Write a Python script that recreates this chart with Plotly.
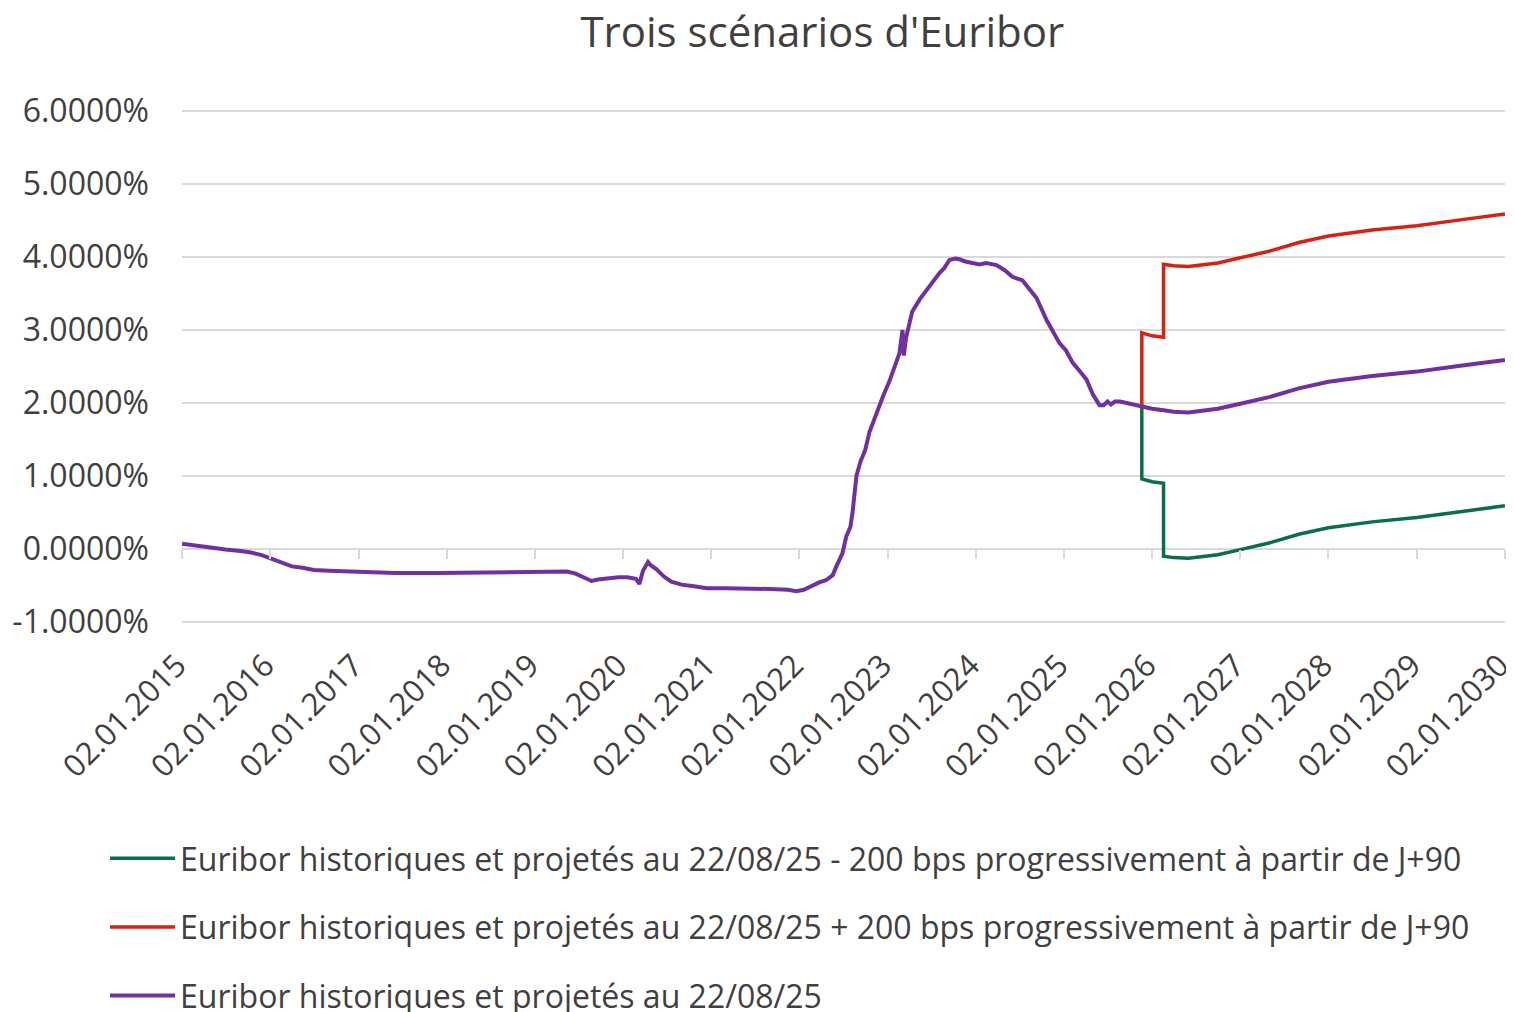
import plotly.graph_objects as go

# Euribor 3M historique + projection (en %)
purple_dates = [
    "2015-01-02", "2015-02-15", "2015-04-01", "2015-05-15", "2015-07-01", "2015-09-01",
    "2015-10-15", "2015-12-01", "2016-01-10", "2016-02-20", "2016-04-01", "2016-05-15",
    "2016-07-01", "2016-09-01", "2016-11-15", "2017-01-02", "2017-06-01", "2017-12-01",
    "2018-06-01", "2018-12-01", "2019-03-01", "2019-05-15", "2019-06-20", "2019-08-01",
    "2019-08-25", "2019-09-20", "2019-11-01", "2019-12-15", "2020-01-20", "2020-02-25",
    "2020-03-10", "2020-03-25", "2020-04-15", "2020-04-25", "2020-05-20", "2020-06-20",
    "2020-07-20", "2020-09-01", "2020-10-15", "2020-12-15", "2021-03-01", "2021-06-01",
    "2021-09-01", "2021-11-15", "2021-12-20", "2022-01-20", "2022-02-25", "2022-03-25",
    "2022-04-22", "2022-05-20", "2022-06-04", "2022-06-29", "2022-07-15", "2022-08-01",
    "2022-08-10", "2022-08-26", "2022-09-12", "2022-10-01", "2022-10-19", "2022-11-21",
    "2022-12-15", "2023-01-10", "2023-02-20", "2023-03-05", "2023-03-10", "2023-03-20",
    "2023-04-14", "2023-05-15", "2023-06-12", "2023-07-10", "2023-08-05", "2023-08-25",
    "2023-09-15", "2023-10-10", "2023-10-26", "2023-11-20", "2023-12-20", "2024-01-17",
    "2024-02-15", "2024-03-28", "2024-05-01", "2024-06-02", "2024-07-14", "2024-08-15",
    "2024-09-10", "2024-10-21", "2024-11-15", "2024-12-14", "2025-01-10", "2025-02-07",
    "2025-03-05", "2025-04-05", "2025-05-01", "2025-05-29", "2025-06-15", "2025-07-01",
    "2025-07-15", "2025-08-01", "2025-08-22",
    # projection
    "2025-10-01", "2025-11-20", "2026-01-01", "2026-02-18", "2026-04-01", "2026-06-01",
    "2026-08-01", "2026-10-01", "2027-01-02", "2027-05-01", "2027-09-01", "2028-01-02",
    "2028-07-01", "2029-01-02", "2029-07-01", "2030-01-02",
]
purple_values = [
    0.07, 0.05, 0.02, 0.00, -0.01, -0.03,
    -0.05, -0.09, -0.14, -0.19, -0.24, -0.26,
    -0.29, -0.30, -0.31, -0.32, -0.33, -0.33,
    -0.32, -0.31, -0.31, -0.31, -0.34, -0.41,
    -0.44, -0.42, -0.40, -0.39, -0.39, -0.41,
    -0.48, -0.30, -0.18, -0.22, -0.28, -0.38,
    -0.45, -0.49, -0.51, -0.54, -0.54, -0.54,
    -0.55, -0.56, -0.58, -0.56, -0.50, -0.46,
    -0.43, -0.36, -0.24, -0.06, 0.17, 0.30,
    0.50, 1.00, 1.20, 1.35, 1.60, 1.90,
    2.10, 2.30, 2.68, 3.00, 2.65, 2.90,
    3.25, 3.42, 3.55, 3.68, 3.78, 3.85,
    3.96, 3.98, 3.97, 3.94, 3.92, 3.90,
    3.92, 3.89, 3.82, 3.73, 3.68, 3.55,
    3.44, 3.14, 3.00, 2.82, 2.72, 2.55,
    2.45, 2.32, 2.12, 1.97, 1.97, 2.02,
    1.98, 2.02, 2.02,
    1.99, 1.96, 1.92, 1.90, 1.88, 1.87,
    1.89, 1.92, 1.99, 2.08, 2.20, 2.29,
    2.37, 2.43, 2.51, 2.59,
]

# scenarios +/- 200 bps (a partir de J+90)
scen_dates = [
    "2025-11-20", "2025-11-20", "2026-01-01", "2026-02-18", "2026-02-18", "2026-04-01",
    "2026-06-01", "2026-08-01", "2026-10-01", "2027-01-02", "2027-05-01", "2027-09-01",
    "2028-01-02", "2028-07-01", "2029-01-02", "2029-07-01", "2030-01-02",
]
red_values = [
    1.96, 2.96, 2.92, 2.90, 3.90, 3.88,
    3.87, 3.89, 3.92, 3.99, 4.08, 4.20,
    4.29, 4.37, 4.43, 4.51, 4.59,
]
green_values = [
    1.96, 0.96, 0.92, 0.90, -0.10, -0.12,
    -0.13, -0.11, -0.08, -0.01, 0.08, 0.20,
    0.29, 0.37, 0.43, 0.51, 0.59,
]

x_tickvals = ["%d-01-02" % y for y in range(2015, 2031)]
x_ticktext = ["02.01.%d" % y for y in range(2015, 2031)]
y_tickvals = [-1, 0, 1, 2, 3, 4, 5, 6]
y_ticktext = ["-1.0000%", "0.0000%", "1.0000%", "2.0000%", "3.0000%", "4.0000%", "5.0000%", "6.0000%"]

names = [
    "Euribor historiques et projetés au 22/08/25 - 200 bps progressivement à partir de J+90",
    "Euribor historiques et projetés au 22/08/25 + 200 bps progressivement à partir de J+90",
    "Euribor historiques et projetés au 22/08/25",
]

GRID = "#d9d9d9"
TXT = "#404040"

# the page body has an 8px margin, so the figure is 8px smaller than the window
W, H = 1506, 1004
Y0, Y1 = -1.03, 6.03

fig = go.Figure()
fig.add_trace(go.Scatter(x=scen_dates, y=green_values, mode="lines", name=names[0],
                         legendgroup="g", line=dict(color="#0B6E45", width=3.5)))
fig.add_trace(go.Scatter(x=scen_dates, y=red_values, mode="lines", name=names[1],
                         legendgroup="r", line=dict(color="#D62212", width=3.5)))
fig.add_trace(go.Scatter(x=purple_dates, y=purple_values, mode="lines", name=names[2],
                         legendgroup="p", xaxis="x2", line=dict(color="#7030A0", width=4)))

fig.update_layout(
    width=W, height=H,
    margin=dict(l=174, r=9, t=101, b=388, autoexpand=False),
    paper_bgcolor="white", plot_bgcolor="white",
    font=dict(family="Open Sans", size=32, color=TXT),
    title=dict(text="Trois scénarios d'Euribor", font=dict(size=42, color=TXT),
               x=0.484, xref="paper", xanchor="center",
               y=1 - 24 / H, yref="container", yanchor="middle"),
    xaxis=dict(range=["2015-01-01 18:00", "2030-01-02 06:00"], tickvals=x_tickvals,
               ticktext=x_ticktext, tickangle=-45, showgrid=False, zeroline=False,
               showline=False, ticks="", ticklabelstandoff=16, ticklabelshift=-5,
               ticklabeloverflow="allow", tickfont=dict(size=31, color=TXT)),
    xaxis2=dict(matches="x", overlaying="x", anchor="free", position=(0 - Y0) / (Y1 - Y0),
                tickvals=x_tickvals, showticklabels=False, showgrid=False, zeroline=False,
                showline=False, ticks="outside", ticklen=9, tickwidth=2, tickcolor=GRID),
    yaxis=dict(range=[Y0, Y1], tickvals=y_tickvals, ticktext=y_ticktext, showgrid=True,
               gridcolor=GRID, gridwidth=2, zeroline=False, showline=False, ticks="",
               ticklabelstandoff=32, tickfont=dict(size=32, color=TXT)),
    legend=dict(orientation="v", xref="container", yref="container",
                x=97 / W, xanchor="left", y=1 - 823 / H, yanchor="top",
                font=dict(size=32, color=TXT), tracegroupgap=24, itemwidth=65,
                bgcolor="rgba(0,0,0,0)"),
    showlegend=True,
)

fig.write_html("out.html")
